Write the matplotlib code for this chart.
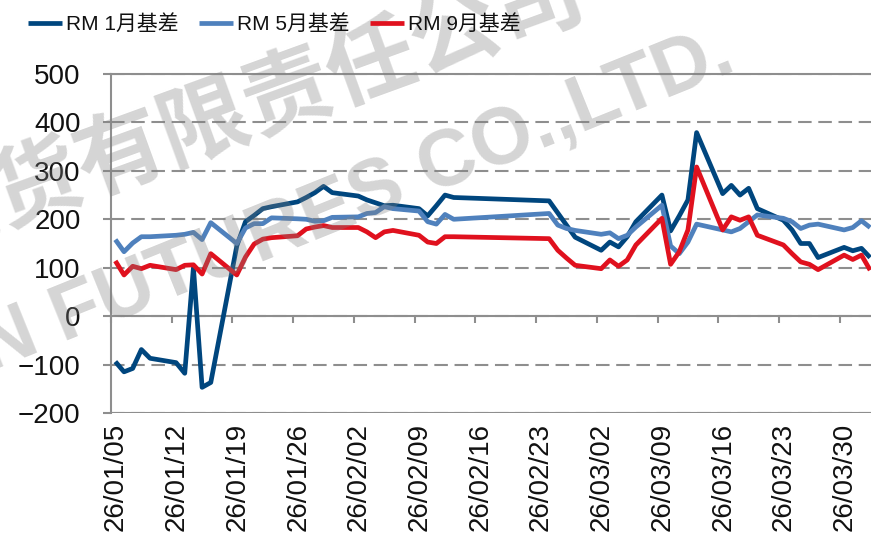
import matplotlib
matplotlib.use('Agg')
import matplotlib.pyplot as plt
import matplotlib.transforms as mtransforms
import numpy as np

# ---------------- data ----------------
dates = ['2026-01-05', '2026-01-06', '2026-01-07', '2026-01-08', '2026-01-09',
         '2026-01-12', '2026-01-13', '2026-01-14', '2026-01-15', '2026-01-16',
         '2026-01-19', '2026-01-20', '2026-01-21', '2026-01-22', '2026-01-23',
         '2026-01-26', '2026-01-27', '2026-01-28', '2026-01-29', '2026-01-30',
         '2026-02-02', '2026-02-03', '2026-02-04', '2026-02-05', '2026-02-06',
         '2026-02-09', '2026-02-10', '2026-02-11', '2026-02-12', '2026-02-13',
         '2026-02-24', '2026-02-25', '2026-02-26', '2026-02-27',
         '2026-03-02', '2026-03-03', '2026-03-04', '2026-03-05', '2026-03-06',
         '2026-03-09', '2026-03-10', '2026-03-11', '2026-03-12', '2026-03-13',
         '2026-03-16', '2026-03-17', '2026-03-18', '2026-03-19', '2026-03-20',
         '2026-03-23', '2026-03-24', '2026-03-25', '2026-03-26', '2026-03-27',
         '2026-03-30', '2026-03-31', '2026-04-01', '2026-04-02']

basis_jan = [-94, -115, -108, -69, -87,
             -96, -118, 100, -147, -137,
             145, 195, 208, 222, 226,
             236, 245, 255, 268, 255,
             248, 240, 234, 228, 229,
             222, 207, 228, 250, 245,
             238, 213, 188, 163,
             136, 153, 143, 164, 195,
             250, 176, 207, 240, 379,
             253, 270, 250, 264, 222,
             198, 178, 150, 150, 121,
             142, 135, 140, 121]

basis_may = [158, 133, 151, 164, 164,
             167, 169, 173, 158, 193,
             150, 182, 191, 191, 203,
             201, 200, 196, 197, 204,
             205, 212, 214, 226, 222,
             217, 195, 190, 210, 200,
             212, 188, 181, 177,
             169, 172, 160, 167, 184,
             229, 145, 129, 153, 190,
             178, 174, 181, 195, 209,
             202, 195, 181, 188, 190,
             178, 183, 197, 183]

basis_sep = [114, 85, 103, 98, 105,
             96, 105, 106, 87, 129,
             85, 122, 149, 159, 162,
             166, 180, 184, 187, 183,
             183, 174, 162, 174, 177,
             167, 153, 150, 164, 164,
             160, 136, 120, 105,
             98, 116, 103, 116, 147,
             202, 107, 133, 178, 308,
             178, 205, 198, 205, 167,
             147, 129, 112, 107, 96,
             126, 117, 126, 95]

series_labels = ['RM 1月基差', 'RM 5月基差', 'RM 9月基差']
series_colors = ['#00467E', '#4F81BD', '#E0111E']

x_tick_dates = ['2026-01-05', '2026-01-12', '2026-01-19', '2026-01-26',
                '2026-02-02', '2026-02-09', '2026-02-16', '2026-02-23',
                '2026-03-02', '2026-03-09', '2026-03-16', '2026-03-23',
                '2026-03-30']
x_tick_labels = ['26/01/05', '26/01/12', '26/01/19', '26/01/26',
                 '26/02/02', '26/02/09', '26/02/16', '26/02/23',
                 '26/03/02', '26/03/09', '26/03/16', '26/03/23',
                 '26/03/30']
y_ticks = [-200, -100, 0, 100, 200, 300, 400, 500]

# ---------------- figure ----------------
plt.rcParams['font.family'] = ['Liberation Sans', 'Noto Sans CJK SC', 'DejaVu Sans']
plt.rcParams['axes.unicode_minus'] = True

W, H = 871, 543
fig = plt.figure(figsize=(W / 100, H / 100), dpi=100)
ax = fig.add_axes([111 / W, 1 - 413 / H, 1 - 111 / W, (413 - 74) / H])

base = np.datetime64('2026-01-05')
# Excel date axis: each day's point sits in the middle of its day slot
x = (np.array(dates, dtype='datetime64[D]') - base).astype(float) + 0.5
xt = (np.array(x_tick_dates, dtype='datetime64[D]') - base).astype(float)

grid_c = '#8e8e8e'
handles = []
for vals, lab, col in zip([basis_jan, basis_may, basis_sep], series_labels, series_colors):
    h, = ax.plot(x, vals, color=col, lw=3.4, label=lab, zorder=3,
                 solid_joinstyle='round', solid_capstyle='butt')
    handles.append(h)

ax.set_xlim(0, 87.6)
ax.set_ylim(-200, 500)
ax.set_yticks(y_ticks)
ax.yaxis.grid(True, color=grid_c, linestyle=(0, (6.5, 3.2)), linewidth=1.5, zorder=1)
ax.set_axisbelow(True)

ax.spines['right'].set_visible(False)
ax.spines['top'].set_color(grid_c)
ax.spines['top'].set_linewidth(1.5)
ax.spines['left'].set_color(grid_c)
ax.spines['left'].set_linewidth(1.5)
ax.spines['bottom'].set_position(('data', 0))
ax.spines['bottom'].set_color(grid_c)
ax.spines['bottom'].set_linewidth(1.5)
ax.axhline(-200, color=grid_c, lw=1.5, zorder=2)

ax.set_xticks(xt)
ax.set_xticklabels(x_tick_labels, rotation=90, fontsize=20, color='#111111')
ax.tick_params(axis='x', direction='out', length=5, width=1.5, color=grid_c, pad=72)
ax.tick_params(axis='y', direction='out', length=5.8, width=1.5, color=grid_c, pad=16,
               labelsize=20, labelcolor='#111111')

off = mtransforms.ScaledTranslation(5 / 100, 0, fig.dpi_scale_trans)
for lab in ax.get_xticklabels():
    lab.set_transform(lab.get_transform() + off)

fig.legend(handles=handles, labels=series_labels, loc='center',
           bbox_to_anchor=(0.315, 0.956), ncol=3, frameon=False, fontsize=15,
           handlelength=1.6, handletextpad=0.2, columnspacing=1.0, labelcolor='#111111')

# ---------------- watermark ----------------
fig.text(-88 / W, 1 - 232 / H, '期货有限责任公司', fontsize=64, fontweight='bold',
         family=['Noto Sans CJK SC'], color='#808080', alpha=0.33, rotation=20,
         rotation_mode='anchor', ha='left', va='center', zorder=5)
fig.text(-18 / W, 1 - 352 / H, 'N FUTURES CO.,LTD.', fontsize=57, fontweight='bold',
         family=['Liberation Sans'], color='#808080', alpha=0.33, rotation=22,
         rotation_mode='anchor', ha='left', va='center', zorder=5)

fig.savefig('out.png', dpi=100)
